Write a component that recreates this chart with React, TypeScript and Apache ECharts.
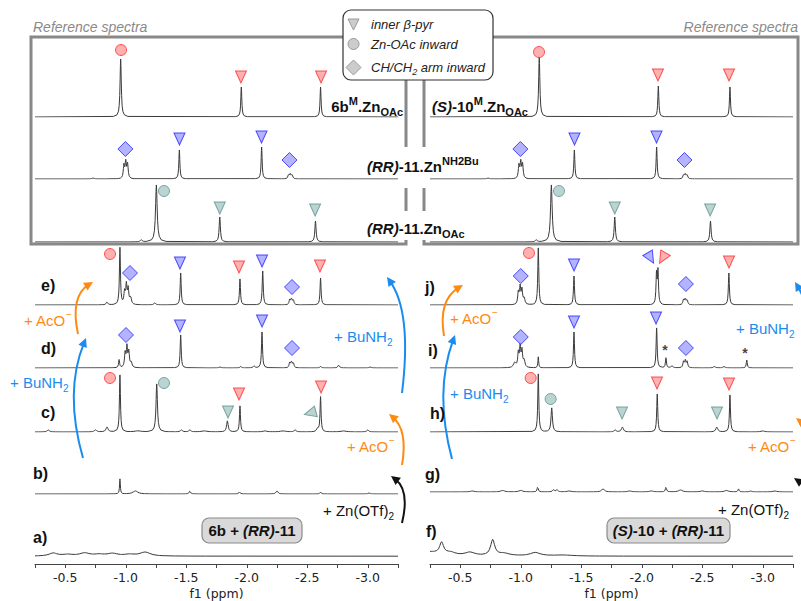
import React, { useEffect, useRef } from "react";
import * as echarts from "echarts";

// [ppm, height, half-width (ppm)]
type Peak = [number, number, number];
// [shape, species, ppm, level, direction?]
type Mark = [string, string, number, number, string?];

// ---------- axis ----------
const ppmMin = -3.25;
const ppmMax = -0.25;
const tickStep = 0.25;
const axisTitle = "f1 (ppm)";

// ---------- reference spectra ----------
const ref6bZnOAc: Peak[] = [[-0.958, 58, 0.006], [-1.955, 30, 0.005], [-2.61, 30, 0.005]];
const ref6bMarks: Mark[] = [["oacIn", "m6b", -0.961, 67], ["pyr", "m6b", -1.952, 40], ["pyr", "m6b", -2.614, 40]];

const refS10ZnOAc: Peak[] = [[-1.153, 60, 0.006], [-2.137, 31, 0.005], [-2.729, 30, 0.005]];
const refS10Marks: Mark[] = [["oacIn", "m6b", -1.151, 65], ["pyr", "m6b", -2.134, 42], ["pyr", "m6b", -2.721, 42]];

const refRR11NH2Bu: Peak[] = [
  [-0.73, 1, 0.01], [-0.985, 13, 0.006], [-1.0, 16, 0.006], [-1.015, 14, 0.006],
  [-1.443, 29, 0.005], [-2.123, 32, 0.005],
  [-2.345, 4, 0.006], [-2.36, 5, 0.006], [-2.375, 4, 0.006],
];
const refRR11NH2BuMarks: Mark[] = [["arm", "bu", -0.997, 30], ["pyr", "bu", -1.444, 40], ["pyr", "bu", -2.122, 42], ["arm", "bu", -2.353, 19]];

const refRR11ZnOAc: Peak[] = [[-1.128, 2, 0.01], [-1.253, 57, 0.008], [-1.777, 25, 0.006], [-2.568, 21, 0.006]];
const refRR11ZnOAcMarks: Mark[] = [["oacIn", "oac", -1.316, 51], ["pyr", "oac", -1.777, 34], ["pyr", "oac", -2.565, 32]];

// ---------- 6b + (RR)-11 titration ----------
const specA: Peak[] = [[-0.4, 3, 0.04], [-0.52, 1.5, 0.05], [-0.66, 3, 0.05], [-0.78, 1.5, 0.05], [-0.89, 2.5, 0.05], [-1.03, 1.5, 0.05], [-1.16, 4, 0.05]];
const specB: Peak[] = [[-0.952, 15, 0.004], [-1.08, 3, 0.025], [-1.53, 3, 0.007], [-1.94, 2, 0.007], [-2.25, 3, 0.01], [-2.61, 2, 0.006], [-3.01, 1, 0.01]];
const specC: Peak[] = [
  [-0.36, 2, 0.012], [-0.75, 2, 0.012], [-0.845, 5, 0.01], [-0.952, 57, 0.005], [-1.1, 1, 0.03],
  [-1.256, 48, 0.007], [-1.46, 2, 0.01], [-1.53, 2, 0.01], [-1.65, 1, 0.03], [-1.84, 11, 0.008],
  [-1.944, 26, 0.005], [-2.15, 1, 0.02], [-2.3, 1, 0.03], [-2.4, 2, 0.01], [-2.585, 3, 0.01],
  [-2.61, 35, 0.005], [-2.8, 1, 0.03], [-3.0, 2, 0.01],
];
const marksC: Mark[] = [
  ["oacIn", "m6b", -0.87, 54], ["oacIn", "oac", -1.316, 49], ["pyr", "oac", -1.845, 20],
  ["pyr", "m6b", -1.936, 38], ["pyr", "m6b", -2.614, 45], ["pyr", "oac", -2.523, 19, "left"],
];
const specD: Peak[] = [
  [-0.945, 8, 0.005], [-0.995, 14, 0.006], [-1.01, 20, 0.006], [-1.025, 15, 0.006], [-1.045, 5, 0.008],
  [-1.454, 33, 0.005], [-1.78, 1, 0.01], [-1.95, 1.5, 0.008], [-2.06, 2, 0.008], [-2.126, 36, 0.005],
  [-2.355, 5, 0.006], [-2.37, 6, 0.006], [-2.385, 5, 0.006], [-2.61, 1.5, 0.008], [-2.76, 3, 0.008], [-3.02, 1, 0.01],
];
const marksD: Mark[] = [["arm", "bu", -1.002, 33], ["pyr", "bu", -1.448, 42], ["pyr", "bu", -2.126, 47], ["arm", "bu", -2.374, 20]];
const specE: Peak[] = [
  [-0.845, 3, 0.008], [-0.952, 57, 0.005], [-0.99, 12, 0.006], [-1.005, 19, 0.006], [-1.02, 15, 0.006],
  [-1.04, 7, 0.008], [-1.24, 2, 0.01], [-1.454, 32, 0.005], [-1.944, 26, 0.005], [-2.132, 34, 0.005],
  [-2.355, 5, 0.006], [-2.37, 6, 0.006], [-2.385, 5, 0.006], [-2.61, 27, 0.005],
];
const marksE: Mark[] = [
  ["oacIn", "m6b", -0.87, 51], ["arm", "bu", -1.035, 32], ["pyr", "bu", -1.448, 42], ["pyr", "m6b", -1.936, 38],
  ["pyr", "bu", -2.126, 44], ["arm", "bu", -2.374, 18], ["pyr", "m6b", -2.605, 39],
];

// ---------- (S)-10 + (RR)-11 titration ----------
const specF: Peak[] = [[-0.25, 4, 0.08], [-0.346, 12, 0.02], [-0.42, 3, 0.05], [-0.58, 3.5, 0.05], [-0.768, 16, 0.02], [-0.86, 2.5, 0.06], [-1.12, 3.5, 0.05], [-1.35, 1, 0.1]];
const specG: Peak[] = [
  [-0.6, 1, 0.02], [-0.85, 1.5, 0.02], [-1.0, 1.5, 0.02], [-1.14, 5, 0.006], [-1.27, 2, 0.01], [-1.3, 2, 0.01],
  [-1.4, 1, 0.02], [-1.68, 3, 0.015], [-1.9, 1, 0.02], [-2.08, 1, 0.02], [-2.2, 5, 0.006], [-2.32, 2, 0.02],
  [-2.5, 1, 0.02], [-2.7, 1.5, 0.02], [-2.8, 3, 0.006], [-2.9, 1, 0.01], [-3.1, 1, 0.02],
];
const specH: Peak[] = [[-1.145, 58, 0.005], [-1.256, 24, 0.007], [-1.78, 2, 0.01], [-1.84, 5, 0.01], [-2.128, 38, 0.005], [-2.62, 5, 0.01], [-2.729, 37, 0.005], [-3.0, 1, 0.02]];
const marksH: Mark[] = [
  ["oacIn", "m6b", -1.082, 54], ["oacIn", "oac", -1.247, 33], ["pyr", "oac", -1.837, 19],
  ["pyr", "m6b", -2.126, 49], ["pyr", "oac", -2.622, 19], ["pyr", "m6b", -2.721, 48],
];
const specI: Peak[] = [
  [-0.95, 5, 0.012], [-0.98, 14, 0.006], [-0.995, 20, 0.006], [-1.01, 16, 0.006], [-1.028, 7, 0.008],
  [-1.145, 11, 0.004], [-1.44, 36, 0.005], [-2.123, 40, 0.005], [-2.2, 10, 0.005], [-2.25, 2, 0.01],
  [-2.345, 6, 0.006], [-2.36, 7, 0.006], [-2.375, 6, 0.006], [-2.6, 1.5, 0.01], [-2.68, 1.5, 0.01], [-2.868, 8, 0.005],
];
const marksI: Mark[] = [
  ["arm", "bu", -1.0, 31], ["pyr", "bu", -1.44, 46], ["pyr", "bu", -2.118, 50],
  ["star", "", -2.192, 18], ["arm", "bu", -2.365, 20], ["star", "", -2.853, 15],
];
const specJ: Peak[] = [
  [-0.98, 12, 0.006], [-0.995, 17, 0.006], [-1.01, 14, 0.006], [-1.028, 6, 0.008], [-1.145, 57, 0.005],
  [-1.44, 29, 0.005], [-2.122, 30, 0.005], [-2.134, 33, 0.005],
  [-2.345, 5, 0.006], [-2.36, 6, 0.006], [-2.375, 5, 0.006], [-2.72, 32, 0.005],
];
const marksJ: Mark[] = [
  ["arm", "bu", -1.0, 29], ["oacIn", "m6b", -1.068, 52], ["pyr", "bu", -1.44, 40],
  ["pyr", "bu", -2.073, 47, "dr"], ["pyr", "m6b", -2.172, 47, "dl"], ["arm", "bu", -2.365, 21], ["pyr", "m6b", -2.721, 43],
];

// ---------- texts ----------
const leftLetters = ["a)", "b)", "c)", "d)", "e)"];
const rightLetters = ["f)", "g)", "h)", "i)", "j)"];
const legendItems = ["inner β-pyr", "Zn-OAc inward", "CH/CH{sb|2} arm inward"];

// ---------- styling ----------
const FONT = "'Liberation Sans', Arial, sans-serif";
const AXFONT = "'DejaVu Sans', Verdana, sans-serif";
const COLORS: Record<string, [string, string]> = {
  m6b: ["#ff9c9c", "#ff2a2a"],
  bu: ["#a0a0ff", "#2424ff"],
  oac: ["#aac9c5", "#5d918b"],
  gray: ["#cccccc", "#9a9a9a"],
};
const ORANGE = "#ff8a12";
const BLUE = "#1a8cf0";
const BOX = "#888888";

const OFFS = [-10, -5, -3, -2, -1.3, -0.7, -0.35, 0, 0.35, 0.7, 1.3, 2, 3, 5, 10];
function lineOf(peaks: Peak[]) {
  const xs = new Set<number>([ppmMax, ppmMin]);
  peaks.forEach(([p, , w]) =>
    OFFS.forEach((o) => {
      const x = +(p + o * w).toFixed(5);
      if (x <= ppmMax && x >= ppmMin) xs.add(x);
    })
  );
  return Array.from(xs)
    .sort((a, b) => b - a)
    .map((x) => [x, peaks.reduce((s, [p, h, w]) => s + h / (1 + ((x - p) / w) ** 2), 0)]);
}

function markItem(m: Mark) {
  const [shape, sp, ppm, lvl, dir] = m;
  if (shape === "star") {
    return {
      value: [ppm, lvl],
      symbol: "circle",
      symbolSize: 1,
      itemStyle: { color: "rgba(0,0,0,0)" },
      label: { show: true, position: "inside", formatter: "*", fontSize: 14, fontWeight: "bold", color: "#111", fontFamily: FONT },
    };
  }
  const [fill, stroke] = COLORS[sp];
  const rot: Record<string, number> = { left: 105, dr: 210, dl: 150 };
  return {
    value: [ppm, lvl],
    symbol: shape === "pyr" ? "triangle" : shape === "arm" ? "diamond" : "circle",
    symbolSize: shape === "pyr" ? [11, 12] : shape === "arm" ? [15, 15] : 11,
    symbolRotate: shape === "pyr" ? (dir ? rot[dir] : 180) : 0,
    itemStyle: { color: fill, borderColor: stroke, borderWidth: 1 },
  };
}

const GH = 75;
const GW = 363;

function buildOption() {
  const panels = [
    {
      x: 35,
      rows: [
        { peaks: ref6bZnOAc, marks: ref6bMarks, base: 117 },
        { peaks: refRR11NH2Bu, marks: refRR11NH2BuMarks, base: 179 },
        { peaks: refRR11ZnOAc, marks: refRR11ZnOAcMarks, base: 242 },
        { peaks: specE, marks: marksE, base: 305 },
        { peaks: specD, marks: marksD, base: 368 },
        { peaks: specC, marks: marksC, base: 432 },
        { peaks: specB, marks: [] as Mark[], base: 494 },
        { peaks: specA, marks: [] as Mark[], base: 558 },
      ],
    },
    {
      x: 430,
      rows: [
        { peaks: refS10ZnOAc, marks: refS10Marks, base: 117 },
        { peaks: refRR11NH2Bu, marks: refRR11NH2BuMarks, base: 179 },
        { peaks: refRR11ZnOAc, marks: refRR11ZnOAcMarks, base: 242 },
        { peaks: specJ, marks: marksJ, base: 305 },
        { peaks: specI, marks: marksI, base: 368 },
        { peaks: specH, marks: marksH, base: 432 },
        { peaks: specG, marks: [] as Mark[], base: 492 },
        { peaks: specF, marks: [] as Mark[], base: 558 },
      ],
    },
  ];
  const grid: any[] = [];
  const xAxis: any[] = [];
  const yAxis: any[] = [];
  const series: any[] = [];
  panels.forEach((pn) => {
    pn.rows.forEach((r, k) => {
      const i = grid.length;
      const bottom = k === pn.rows.length - 1;
      grid.push({ left: pn.x, width: GW, top: r.base - GH, height: bottom ? GH + 8 : GH });
      xAxis.push({
        gridIndex: i,
        type: "value",
        min: ppmMin,
        max: ppmMax,
        interval: tickStep,
        inverse: true,
        show: bottom,
        splitLine: { show: false },
        axisLine: { onZero: false, lineStyle: { color: "#444", width: 1 } },
        axisTick: { show: true, length: 4, lineStyle: { color: "#444" } },
        axisLabel: {
          color: "#222",
          fontFamily: AXFONT,
          fontSize: 12.5,
          margin: 7,
          formatter: (v: number) => {
            const t = Math.round(v * 100);
            return t % 50 === 0 && t !== 0 ? v.toFixed(1) : "";
          },
        },
        name: axisTitle,
        nameLocation: "middle",
        nameGap: 23,
        nameTextStyle: { color: "#222", fontFamily: AXFONT, fontSize: 12.5 },
      });
      yAxis.push({ gridIndex: i, type: "value", min: bottom ? -8 : 0, max: GH, show: false });
      series.push({
        type: "line",
        xAxisIndex: i,
        yAxisIndex: i,
        data: lineOf(r.peaks),
        symbol: "none",
        silent: true,
        lineStyle: { color: "#3a3a3a", width: 1 },
      });
      if (r.marks.length) {
        series.push({
          type: "scatter",
          xAxisIndex: i,
          yAxisIndex: i,
          clip: false,
          silent: true,
          z: 5,
          data: r.marks.map(markItem),
        });
      }
    });
  });

  const g: any[] = [];
  // reference boxes
  const boxLine = (points: number[][]) =>
    g.push({ type: "polyline", shape: { points }, style: { stroke: BOX, lineWidth: 3, fill: null }, z: 1 });
  boxLine([[343, 37], [31, 37], [31, 244], [406, 244], [406, 240]]);
  boxLine([[406, 80], [406, 147]]);
  boxLine([[406, 188], [406, 211]]);
  boxLine([[493, 37], [798, 37], [798, 244], [424, 244], [424, 240]]);
  boxLine([[424, 80], [424, 147]]);
  boxLine([[424, 188], [424, 211]]);

  const T = (x: number, y: number, text: string, o: any = {}) =>
    g.push({
      type: "text",
      x,
      y,
      z: 10,
      style: {
        text,
        fill: o.fill || "#111",
        fontFamily: FONT,
        fontSize: o.fontSize || 15,
        fontWeight: o.fontWeight || "normal",
        fontStyle: o.fontStyle || "normal",
        align: o.align || "left",
        verticalAlign: "middle",
        rich: o.rich,
      },
    });

  T(33, 27, "Reference spectra", { fill: "#8a8a8a", fontSize: 14, fontStyle: "italic" });
  T(798, 27, "Reference spectra", { fill: "#8a8a8a", fontSize: 14, fontStyle: "italic", align: "right" });

  const boldRich = (fill: string) => ({
    b: { fontFamily: FONT, fontSize: 15, fontWeight: "bold", fill, lineHeight: 22, verticalAlign: "middle" },
    bi: { fontFamily: FONT, fontSize: 15, fontWeight: "bold", fontStyle: "italic", fill, lineHeight: 22, verticalAlign: "middle" },
    sp: { fontFamily: FONT, fontSize: 11, fontWeight: "bold", fill, lineHeight: 12, verticalAlign: "top" },
    sb: { fontFamily: FONT, fontSize: 11, fontWeight: "bold", fill, lineHeight: 12, verticalAlign: "bottom" },
  });
  const normRich = (fill: string) => ({
    n: { fontFamily: FONT, fontSize: 15, fill, lineHeight: 22, verticalAlign: "middle" },
    sp: { fontFamily: FONT, fontSize: 10, fill, lineHeight: 12, verticalAlign: "top" },
    sb: { fontFamily: FONT, fontSize: 10, fill, lineHeight: 12, verticalAlign: "bottom" },
  });

  T(403, 106, "{b|6b}{sp|M}{b|.Zn}{sb|OAc}", { align: "right", rich: boldRich("#111") });
  T(432, 106, "{bi|(S)}{b|-10}{sp|M}{b|.Zn}{sb|OAc}", { rich: boldRich("#111") });
  T(367, 166, "{bi|(RR)}{b|-11.Zn}{sp|NH2Bu}", { rich: boldRich("#111") });
  T(367, 228, "{bi|(RR)}{b|-11.Zn}{sb|OAc}", { rich: boldRich("#111") });

  const lY = [537, 473, 412, 348, 285];
  const lX = [33, 33, 41, 41, 41];
  leftLetters.forEach((s, k) => T(lX[k], lY[k], s, { fontWeight: "bold", fontSize: 16 }));
  const rY = [531, 474, 413, 350, 287];
  const rX = [426, 425, 430, 428, 425];
  rightLetters.forEach((s, k) => T(rX[k], rY[k], s, { fontWeight: "bold", fontSize: 16 }));

  // annotation texts
  const acO = "{n|+ AcO}{sp|−}";
  const bu = "{n|+ BuNH}{sb|2}";
  const zn = "{n|+ Zn(OTf)}{sb|2}";
  T(24, 320, acO, { rich: normRich(ORANGE) });
  T(10, 382, bu, { rich: normRich(BLUE) });
  T(334, 336, bu, { rich: normRich(BLUE) });
  T(347, 446, acO, { rich: normRich(ORANGE) });
  T(323, 510, zn, { rich: normRich("#111") });
  T(450, 318, acO, { rich: normRich(ORANGE) });
  T(450, 393, bu, { rich: normRich(BLUE) });
  T(736, 328, bu, { rich: normRich(BLUE) });
  T(748, 446, acO, { rich: normRich(ORANGE) });
  T(718, 509, zn, { rich: normRich("#111") });

  // arrows
  const arrow = (x1: number, y1: number, cx: number, cy: number, x2: number, y2: number, color: string) => {
    const dx = x2 - cx, dy = y2 - cy;
    const L = Math.hypot(dx, dy);
    const ux = dx / L, uy = dy / L;
    const bx = x2 - ux * 9, by = y2 - uy * 9;
    g.push({
      type: "bezierCurve",
      shape: { x1, y1, cpx1: cx, cpy1: cy, x2: x2 - ux * 5, y2: y2 - uy * 5 },
      style: { stroke: color, lineWidth: 2, fill: null },
      z: 8,
    });
    g.push({
      type: "polygon",
      shape: { points: [[x2, y2], [bx - uy * 4.5, by + ux * 4.5], [bx + uy * 4.5, by - ux * 4.5]] },
      style: { fill: color },
      z: 8,
    });
  };
  arrow(78, 334, 70, 296, 93, 282, ORANGE);
  arrow(83, 458, 64, 392, 86, 338, BLUE);
  arrow(402, 393, 412, 312, 387, 277, BLUE);
  arrow(402, 465, 408, 430, 389, 414, ORANGE);
  arrow(402, 523, 410, 490, 391, 476, "#111");
  arrow(444, 336, 438, 300, 463, 285, ORANGE);
  arrow(452, 459, 434, 392, 455, 335, BLUE);
  arrow(812, 395, 818, 320, 795, 282, BLUE);
  arrow(812, 465, 812, 430, 796, 418, ORANGE);
  arrow(812, 523, 812, 490, 794, 478, "#111");

  // compound boxes
  g.push({ type: "rect", shape: { x: 202, y: 518, width: 100, height: 25, r: 7 }, style: { fill: "#d9d9d9", stroke: "#8a8a8a", lineWidth: 1.2 }, z: 6 });
  g.push({ type: "rect", shape: { x: 607, y: 518, width: 123, height: 25, r: 7 }, style: { fill: "#d9d9d9", stroke: "#8a8a8a", lineWidth: 1.2 }, z: 6 });
  T(252, 530.5, "{b|6b + }{bi|(RR)}{b|-11}", { align: "center", rich: boldRich("#111") });
  T(668.5, 530.5, "{bi|(S)}{b|-10 + }{bi|(RR)}{b|-11}", { align: "center", rich: boldRich("#111") });

  // legend
  g.push({ type: "rect", shape: { x: 343, y: 10, width: 150, height: 70, r: 8 }, style: { fill: "#fff", stroke: "#333", lineWidth: 1.2 }, z: 12 });
  const [gf, gs] = COLORS.gray;
  g.push({ type: "polygon", shape: { points: [[348, 19], [359, 19], [353.5, 30]] }, style: { fill: gf, stroke: gs, lineWidth: 1 }, z: 13 });
  g.push({ type: "circle", shape: { cx: 353.5, cy: 44, r: 5.5 }, style: { fill: gf, stroke: gs, lineWidth: 1 }, z: 13 });
  g.push({ type: "polygon", shape: { points: [[353.5, 60], [361, 67.5], [353.5, 75], [346, 67.5]] }, style: { fill: gf, stroke: gs, lineWidth: 1 }, z: 13 });
  const legRich = {
    i: { fontFamily: FONT, fontSize: 13, fontStyle: "italic", fill: "#222", lineHeight: 18, verticalAlign: "middle" },
    sb: { fontFamily: FONT, fontSize: 9, fontStyle: "italic", fill: "#222", lineHeight: 10, verticalAlign: "bottom" },
  };
  const legY = [24, 44, 67];
  legendItems.forEach((s, k) => {
    g.push({
      type: "text",
      x: 371,
      y: legY[k],
      z: 13,
      style: { text: s.startsWith("CH") ? "{i|CH/CH}{sb|2}{i| arm inward}" : "{i|" + s + "}", rich: legRich, verticalAlign: "middle", align: "left" },
    });
  });

  return {
    animation: false,
    backgroundColor: "#ffffff",
    grid,
    xAxis,
    yAxis,
    series,
    graphic: g,
  };
}

export default function App() {
  const ref = useRef<HTMLDivElement>(null);
  useEffect(() => {
    const chart = echarts.init(ref.current!, null, { renderer: "svg" });
    chart.setOption(buildOption() as any);
    return () => chart.dispose();
  }, []);
  return <div ref={ref} style={{ position: "absolute", left: 0, top: 0, width: 801, height: 601 }} />;
}
